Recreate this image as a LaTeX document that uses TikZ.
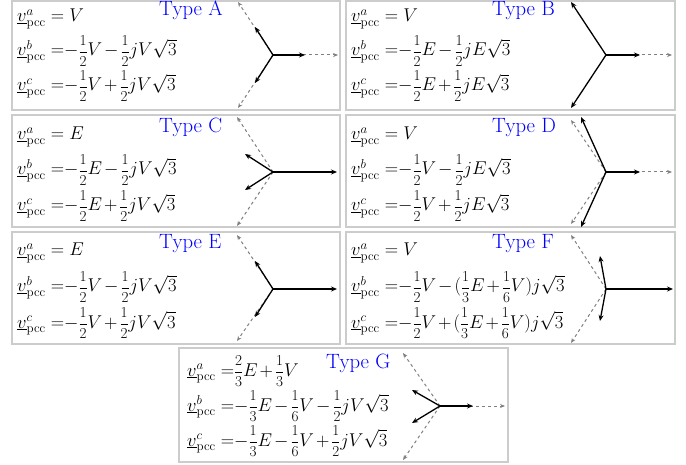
\RequirePackage{fix-cm}
\documentclass[tikz,border=0pt]{standalone}
\usepackage{graphicx}
\usetikzlibrary{arrows.meta}
\newcommand\vpc[1]{\underline{v}^{#1}_{\mathrm{pcc}}}
\newcommand\fr[2]{\mathord{\scalebox{0.82}{$\displaystyle\frac{#1}{#2}$}}}
\newcommand\eqm{=\mskip-5mu}
\newcommand\sqt{\sqrt{3}}
\tikzset{
  panelframe/.style={draw=gray!40, line width=2.5pt},
  phasor/.style={-{Stealth[length=6pt,width=5pt]}, line width=1.3pt, black},
  refph/.style={-{Stealth[length=5pt,width=4pt]}, gray, dash pattern=on 3pt off 3pt, line width=1pt},
  eq/.style={anchor=base west, inner sep=0pt, font=\fontsize{18.5}{22}\selectfont},
  ttl/.style={anchor=base west, inner sep=0pt, text=blue, font=\fontsize{20.7}{25}\selectfont}
}
\begin{document}
\medmuskip=2mu
\begin{tikzpicture}[x=1pt,y=-1pt]
\useasboundingbox (0,0) rectangle (686,465);
% ---------- Type A
\draw[panelframe] (12,1) rectangle (340,110);
\node[eq] (a1) at (17,22) {$\vpc{a}=V$};
\node[eq] (a2) at (17,56) {$\vpc{b}\eqm-\fr{1}{2}V-\fr{1}{2}jV\sqt$};
\node[eq] (a3) at (17,91) {$\vpc{c}\eqm-\fr{1}{2}V+\fr{1}{2}jV\sqt$};
\node[ttl] (at) at (159,16) {Type A};
\coordinate (ao) at (273,55);
\coordinate (aad) at (338,55); \coordinate (aa) at (305,55);
\coordinate (abd) at (238,2);  \coordinate (ab) at (255,27);
\coordinate (acd) at (238,108);\coordinate (ac) at (255,83);
\draw[refph] (ao) -- (aad); \draw[refph] (ao) -- (abd); \draw[refph] (ao) -- (acd);
\draw[phasor] (ao) -- (aa); \draw[phasor] (ao) -- (ab); \draw[phasor] (ao) -- (ac);
% ---------- Type B
\draw[panelframe] (346,1) rectangle (675,110);
\node[eq] (b1) at (351,22) {$\vpc{a}=V$};
\node[eq] (b2) at (351,56) {$\vpc{b}\eqm-\fr{1}{2}E-\fr{1}{2}jE\sqt$};
\node[eq] (b3) at (351,91) {$\vpc{c}\eqm-\fr{1}{2}E+\fr{1}{2}jE\sqt$};
\node[ttl] (bt) at (492,16) {Type B};
\coordinate (bo) at (606,55);
\coordinate (bad) at (672,55); \coordinate (ba) at (640,55);
\coordinate (bb) at (571,2); \coordinate (bc) at (571,108);
\draw[refph] (bo) -- (bad);
\draw[phasor] (bo) -- (ba); \draw[phasor] (bo) -- (bb); \draw[phasor] (bo) -- (bc);
% ---------- Type C
\draw[panelframe] (12,115) rectangle (340,227);
\node[eq] (c1) at (17,140) {$\vpc{a}=E$};
\node[eq] (c2) at (17,175) {$\vpc{b}\eqm-\fr{1}{2}E-\fr{1}{2}jV\sqt$};
\node[eq] (c3) at (17,211) {$\vpc{c}\eqm-\fr{1}{2}E+\fr{1}{2}jV\sqt$};
\node[ttl] (ct) at (159,133) {Type C};
\coordinate (co) at (273,172);
\coordinate (ca) at (337,172);
\coordinate (cbd) at (237,117); \coordinate (cb) at (245,154);
\coordinate (ccd) at (237,226); \coordinate (cc) at (245,190);
\draw[refph] (co) -- (cbd); \draw[refph] (co) -- (ccd);
\draw[phasor] (co) -- (ca); \draw[phasor] (co) -- (cb); \draw[phasor] (co) -- (cc);
% ---------- Type D
\draw[panelframe] (346,115) rectangle (675,227);
\node[eq] (d1) at (351,140) {$\vpc{a}=V$};
\node[eq] (d2) at (351,175) {$\vpc{b}\eqm-\fr{1}{2}V-\fr{1}{2}jE\sqt$};
\node[eq] (d3) at (351,211) {$\vpc{c}\eqm-\fr{1}{2}V+\fr{1}{2}jE\sqt$};
\node[ttl] (dt) at (492,133) {Type D};
\coordinate (do) at (606,172);
\coordinate (dad) at (672,172); \coordinate (da) at (640,172);
\coordinate (dbd) at (571,120); \coordinate (db) at (581,117);
\coordinate (dcd) at (571,224); \coordinate (dc) at (581,227);
\draw[refph] (do) -- (dad); \draw[refph] (do) -- (dbd); \draw[refph] (do) -- (dcd);
\draw[phasor] (do) -- (da); \draw[phasor] (do) -- (db); \draw[phasor] (do) -- (dc);
% ---------- Type E
\draw[panelframe] (12,232) rectangle (340,344);
\node[eq] (e1) at (17,256) {$\vpc{a}=E$};
\node[eq] (e2) at (17,292) {$\vpc{b}\eqm-\fr{1}{2}V-\fr{1}{2}jV\sqt$};
\node[eq] (e3) at (17,328) {$\vpc{c}\eqm-\fr{1}{2}V+\fr{1}{2}jV\sqt$};
\node[ttl] (et) at (159,249) {Type E};
\coordinate (eo) at (273,289);
\coordinate (ea) at (337,289);
\coordinate (ebd) at (237,235); \coordinate (eb) at (255,261);
\coordinate (ecd) at (237,341); \coordinate (ec) at (255,317);
\draw[refph] (eo) -- (ebd); \draw[refph] (eo) -- (ecd);
\draw[phasor] (eo) -- (ea); \draw[phasor] (eo) -- (eb); \draw[phasor] (eo) -- (ec);
% ---------- Type F
\draw[panelframe] (346,232) rectangle (675,344);
\node[eq] (f1) at (351,256) {$\vpc{a}=V$};
\node[eq] (f2) at (351,292) {$\vpc{b}\eqm-\fr{1}{2}V-(\fr{1}{3}E+\fr{1}{6}V)j\sqt$};
\node[eq] (f3) at (351,328) {$\vpc{c}\eqm-\fr{1}{2}V+(\fr{1}{3}E+\fr{1}{6}V)j\sqt$};
\node[ttl] (ft) at (492,249) {Type F};
\coordinate (fo) at (606,289);
\coordinate (fa) at (673,289);
\coordinate (fbd) at (571,235); \coordinate (fb) at (600,256);
\coordinate (fcd) at (571,343); \coordinate (fc) at (600,321);
\draw[refph] (fo) -- (fbd); \draw[refph] (fo) -- (fcd);
\draw[phasor] (fo) -- (fa); \draw[phasor] (fo) -- (fb); \draw[phasor] (fo) -- (fc);
% ---------- Type G
\draw[panelframe] (179,348) rectangle (508,462);
\node[eq] (g1) at (187,376) {$\vpc{a}\eqm\fr{2}{3}E+\fr{1}{3}V$};
\node[eq] (g2) at (187,411) {$\vpc{b}\eqm-\fr{1}{3}E-\fr{1}{6}V-\fr{1}{2}jV\sqt$};
\node[eq] (g3) at (187,446) {$\vpc{c}\eqm-\fr{1}{3}E-\fr{1}{6}V+\fr{1}{2}jV\sqt$};
\node[ttl] (gt) at (326,368) {Type G};
\coordinate (go) at (440,406);
\coordinate (gad) at (505,406); \coordinate (ga) at (473,406);
\coordinate (gbd) at (403,353); \coordinate (gb) at (412,390);
\coordinate (gcd) at (403,460); \coordinate (gc) at (412,423);
\draw[refph] (go) -- (gad); \draw[refph] (go) -- (gbd); \draw[refph] (go) -- (gcd);
\draw[phasor] (go) -- (ga); \draw[phasor] (go) -- (gb); \draw[phasor] (go) -- (gc);
\end{tikzpicture}
\end{document}
